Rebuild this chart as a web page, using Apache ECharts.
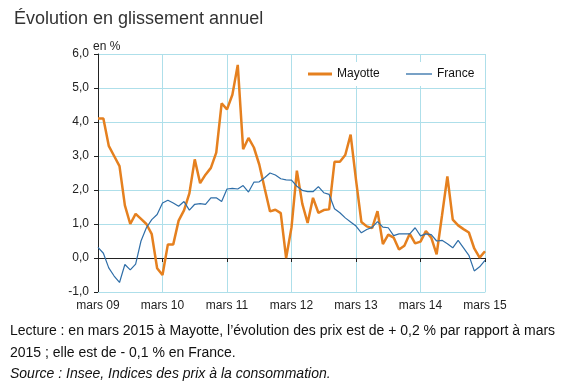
<!DOCTYPE html>
<html><head><meta charset="utf-8">
<script src="https://cdn.jsdelivr.net/npm/echarts@6/dist/echarts.min.js"></script>
<style>html,body{margin:0;padding:0;background:#fff}#c{width:567px;height:385px}</style>
</head><body><div id="c"></div>
<script>
var tickLabels = ['mars 09','mars 10','mars 11','mars 12','mars 13','mars 14','mars 15'];
var months = [];
for (var y = 9; y <= 15; y++) {
  var names = ['mars','avr','mai','juin','juil','août','sept','oct','nov','déc','janv','févr'];
  for (var m = 0; m < 12; m++) {
    if (y === 15 && m > 0) break;
    var yy = m < 10 ? y : y + 1;
    months.push(names[m] + ' ' + (yy < 10 ? '0' + yy : '' + yy));
  }
}
var mayotte = [4.1,4.1,3.3,3.0,2.7,1.55,1.0,1.3,1.15,1.0,0.7,-0.3,
  -0.5,0.4,0.4,1.1,1.4,1.9,2.9,2.2,2.45,2.65,3.1,4.55,
  4.37,4.8,5.68,3.2,3.53,3.25,2.75,2.05,1.37,1.42,1.32,0.0,
  0.9,2.57,1.6,1.03,1.77,1.33,1.41,1.43,2.83,2.83,3.03,3.63,
  2.3,1.06,0.93,0.88,1.38,0.41,0.69,0.6,0.25,0.36,0.71,0.43,
  0.48,0.79,0.6,0.11,1.25,2.4,1.13,0.96,0.85,0.75,0.28,0.01,
  0.2];
var france = [0.31,0.14,-0.29,-0.53,-0.72,-0.19,-0.35,-0.18,0.5,0.89,1.13,1.28,
  1.62,1.70,1.62,1.52,1.66,1.41,1.58,1.6,1.58,1.77,1.77,1.66,
  2.03,2.05,2.03,2.13,1.94,2.23,2.24,2.36,2.5,2.44,2.33,2.3,
  2.29,2.11,1.99,1.95,1.95,2.1,1.92,1.87,1.45,1.33,1.18,1.06,
  0.94,0.74,0.84,0.9,1.07,0.91,0.89,0.66,0.71,0.71,0.71,0.89,
  0.65,0.71,0.69,0.5,0.52,0.42,0.3,0.52,0.3,0.08,-0.38,-0.26,
  -0.07];
var grid = '#aedfea';
var orange = '#e5801f', blue = '#2f6ea8';
var chart = echarts.init(document.getElementById('c'), null, {renderer:'canvas'});
chart.setOption({
  animation:false,
  backgroundColor:'#fff',
  textStyle:{fontFamily:'Liberation Sans, Arial, sans-serif'},
  title:{text:'Évolution en glissement annuel', left:9, top:5,
    textStyle:{fontSize:18, fontWeight:'normal', color:'#333', fontFamily:'Liberation Sans, Arial, sans-serif'}},
  grid:{left:98, right:82, top:54, bottom:93},
  legend:[
    {left:300, top:62, itemWidth:24, itemHeight:3, padding:[6,8,6,8], backgroundColor:'#fff',
     icon:'rect', textStyle:{fontSize:12, color:'#111'}, data:['Mayotte']},
    {left:398, top:62, itemWidth:26, itemHeight:1.3, padding:[6,8,6,8], backgroundColor:'#fff',
     icon:'rect', textStyle:{fontSize:12, color:'#111'}, data:['France']}
  ],
  xAxis:[{
    type:'category', data:months, boundaryGap:false,
    axisLine:{onZero:true, lineStyle:{color:'#222', width:1}},
    axisTick:{show:true, interval:11, length:4, lineStyle:{color:'#222'}},
    axisLabel:{show:false},
    splitLine:{show:true, interval:11, lineStyle:{color:grid, width:1}}
  },{
    type:'category', data:months, boundaryGap:false, position:'bottom',
    axisLine:{show:true, onZero:false, lineStyle:{color:grid}},
    axisTick:{show:false},
    axisLabel:{interval:11, margin:8, fontSize:12, color:'#222',
      formatter:function(v, i){ return tickLabels[i/12]; }},
    splitLine:{show:false}
  }],
  yAxis:{
    type:'value', min:-1, max:6, interval:1,
    axisLine:{show:true, onZero:false, lineStyle:{color:'#222'}},
    axisTick:{show:true, length:4, lineStyle:{color:'#222'}},
    axisLabel:{fontSize:12, color:'#222', margin:9,
      formatter:function(v){ return v.toFixed(1).replace('.', ','); }},
    splitLine:{show:true, lineStyle:{color:[grid,'#222',grid,grid,grid,grid,grid,grid], width:1}}
  },
  series:[
    {name:'Mayotte', type:'line', data:mayotte, symbol:'none', xAxisIndex:0,
      lineStyle:{color:orange, width:2.5}, itemStyle:{color:orange}, z:3},
    {name:'France', type:'line', data:france, symbol:'none', xAxisIndex:0,
      lineStyle:{color:blue, width:1.2}, itemStyle:{color:blue}, z:4}
  ],
  graphic:[
    {type:'text', left:93, top:41, style:{text:'en %',
      font:'12px "Liberation Sans", Arial, sans-serif', fill:'#222'}},
    {type:'text', left:10, top:324, style:{text:"Lecture : en mars 2015 à Mayotte, l’évolution des prix est de + 0,2 % par rapport à mars",
      font:'14px "Liberation Sans Narrow", "Liberation Sans", sans-serif', fill:'#111'}},
    {type:'text', left:10, top:346, style:{text:"2015 ; elle est de - 0,1 % en France.",
      font:'14px "Liberation Sans Narrow", "Liberation Sans", sans-serif', fill:'#111'}},
    {type:'text', left:10, top:367, style:{text:"Source : Insee, Indices des prix à la consommation.",
      font:'italic 14px "Liberation Sans Narrow", "Liberation Sans", sans-serif', fill:'#111'}}
  ]
});
</script></body></html>
